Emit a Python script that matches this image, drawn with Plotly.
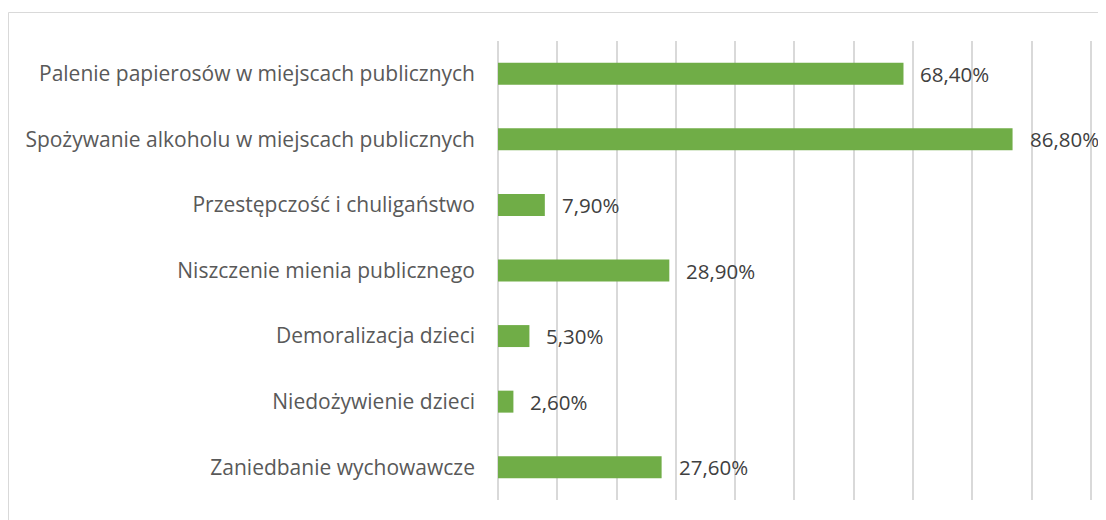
import plotly.graph_objects as go

categories = [
    "Palenie papierosów w miejscach publicznych",
    "Spożywanie alkoholu w miejscach publicznych",
    "Przestępczość i chuligaństwo",
    "Niszczenie mienia publicznego",
    "Demoralizacja dzieci",
    "Niedożywienie dzieci",
    "Zaniedbanie wychowawcze",
]
values = [68.4, 86.8, 7.9, 28.9, 5.3, 2.6, 27.6]
labels = [f"{v:.2f}".replace(".", ",") + "%" for v in values]

W, H = 1106, 520
ML, MR, MT, MB = 490, 22, 33, 28
pw = W - ML - MR
ph = H - MT - MB

fig = go.Figure()
fig.add_trace(go.Bar(
    x=values, y=categories, orientation="h",
    marker=dict(color="#70AD47", line=dict(width=0)),
    hoverinfo="skip",
))

for c, v, t in zip(categories, values, labels):
    fig.add_annotation(
        x=v, y=c, text=t, showarrow=False, xanchor="left", yanchor="middle",
        xshift=15, font=dict(family="Open Sans", size=20.5, color="#404040"),
    )

# outer chart border (extends beyond right/bottom edges)
fig.add_shape(
    type="rect", xref="paper", yref="paper",
    x0=(0.5 - ML) / pw, x1=(W + 5 - ML) / pw,
    y0=-(MB + 5) / ph, y1=1 + (MT - 4.5) / ph,
    line=dict(color="#D9D9D9", width=1), fillcolor="rgba(0,0,0,0)", layer="below",
)

fig.update_layout(
    width=W, height=H,
    margin=dict(l=ML, r=MR, t=MT, b=MB),
    paper_bgcolor="white", plot_bgcolor="white",
    bargap=0.665,
    showlegend=False,
    font=dict(family="Open Sans", color="#595959"),
    xaxis=dict(
        range=[0, 100.2], tick0=0, dtick=10, showticklabels=False,
        showgrid=True, gridcolor="#D9D9D9", gridwidth=1.5,
        zeroline=True, zerolinecolor="#D9D9D9", zerolinewidth=1.5,
        showline=False, fixedrange=True,
    ),
    yaxis=dict(
        categoryorder="array", categoryarray=categories[::-1],
        showgrid=False, zeroline=False, showline=False,
        tickfont=dict(family="Open Sans", size=21, color="#595959"),
        ticks="", ticklabelstandoff=22, fixedrange=True,
    ),
)

fig.write_html("out.html")
